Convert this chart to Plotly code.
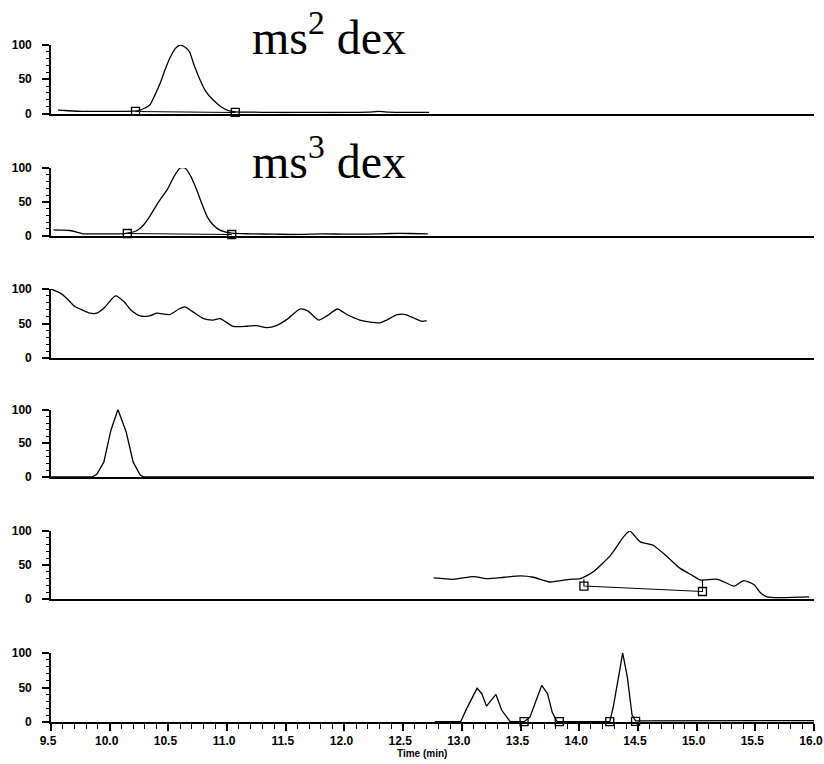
import plotly.graph_objects as go

# ---------------- data (time in min, relative abundance %) ----------------
p1_t = [9.56, 9.65, 9.77, 9.9, 10.05, 10.2, 10.26, 10.30, 10.34, 10.38, 10.43, 10.47, 10.51, 10.56,
        10.60, 10.64, 10.68, 10.72, 10.77, 10.82, 10.88, 10.94, 11.00, 11.07, 11.2, 11.4, 11.6,
        11.8, 12.0, 12.2, 12.29, 12.38, 12.5, 12.72]
p1_v = [5, 4, 3, 3, 3.2, 3.4, 5, 8, 12, 25, 44, 63, 80, 95, 100, 97, 90, 70, 49, 32, 20, 11, 5,
        2.5, 2, 1.5, 1.5, 1.5, 1.5, 2, 3, 2, 1.5, 1.5]
p1_mark_t = [10.22, 11.07]
p1_mark_v = [3, 1.5]

p2_t = [9.52, 9.6, 9.66, 9.72, 9.77, 9.9, 10.09, 10.15, 10.23, 10.28, 10.34, 10.41, 10.49, 10.55,
        10.60, 10.64, 10.69, 10.74, 10.79, 10.83, 10.88, 10.94, 11.04, 11.2, 11.4, 11.6, 11.8,
        12.0, 12.2, 12.4, 12.55, 12.71]
p2_v = [8.4, 8, 7.4, 5, 2.5, 2.5, 2.5, 3.5, 7, 14, 28, 48, 68, 88, 100, 100, 88, 68, 45, 28, 16,
        8, 3.5, 2.5, 2, 1.5, 2.5, 2, 2, 3, 3, 2.5]
p2_mark_t = [10.15, 11.04]
p2_mark_v = [3, 1.5]

p3_t = [9.50, 9.58, 9.63, 9.70, 9.76, 9.83, 9.89, 9.95, 10.05, 10.12, 10.19, 10.26, 10.34, 10.40,
        10.51, 10.59, 10.64, 10.70, 10.80, 10.88, 10.94, 11.05, 11.17, 11.25, 11.34, 11.42, 11.51,
        11.62, 11.69, 11.78, 11.85, 11.94, 12.02, 12.13, 12.22, 12.30, 12.36, 12.45, 12.52, 12.59,
        12.66, 12.70]
p3_v = [100, 94, 87, 75, 70, 65, 65, 72, 90, 82, 68, 61, 61, 65, 63, 71, 74, 68, 57, 55, 57, 46,
        46, 47, 44, 47, 56, 71, 68, 55, 61, 71, 63, 55, 52, 51, 55, 63, 63, 58, 53, 54]

p4_t = [9.5, 9.85, 9.89, 9.95, 10.01, 10.07, 10.14, 10.20, 10.26, 10.29, 12.0, 14.0, 16.0]
p4_v = [0, 0, 4, 22, 69, 100, 67, 22, 3, 0, 0, 0, 0]

p5_t = [12.76, 12.93, 13.10, 13.21, 13.36, 13.50, 13.61, 13.75, 13.92, 14.01, 14.12, 14.27, 14.38,
        14.43, 14.52, 14.63, 14.75, 14.86, 14.97, 15.03, 15.18, 15.32, 15.40, 15.49, 15.54, 15.60,
        15.96]
p5_v = [31, 29, 33, 30, 32, 34, 32, 25, 29, 30, 40, 65, 92, 100, 84, 79, 62, 45, 34, 28, 29, 19,
        27, 21, 10, 3, 3]
p5_base_t = [14.04, 14.04, 15.05, 15.05]
p5_base_v = [29, 19, 11, 28]
p5_mark_t = [14.04, 15.05]
p5_mark_v = [19, 11]

p6_t = [12.77, 12.99, 13.04, 13.13, 13.17, 13.21, 13.29, 13.34, 13.41, 13.53, 13.58, 13.64, 13.68,
        13.73, 13.77, 13.81, 13.83, 14.26, 14.29, 14.34, 14.37, 14.41, 14.45, 14.48, 15.0, 15.5,
        16.0]
p6_v = [0.5, 0.5, 19, 49, 41, 23, 40, 17, 1, 0.5, 7, 36, 53, 41, 14, 1, 0.5, 0.5, 22, 70, 100, 65,
        10, 1.5, 1.5, 2, 2]
p6_mark_t = [13.53, 13.83, 14.26, 14.48]
p6_mark_v = [0.5, 0.5, 0.5, 1]

x_range = [9.5, 16.0]
y_ticks = [0, 50, 100]
x_tick_labels = ["9.5", "10.0", "10.5", "11.0", "11.5", "12.0", "12.5", "13.0", "13.5",
                 "14.0", "14.5", "15.0", "15.5", "16.0"]
x_tick_vals = [9.5 + 0.5 * i for i in range(len(x_tick_labels))]

# ---------------- layout geometry (page pixels) ----------------
W, H = 824, 764
X0, X1 = 51, 814
# (pixel y of value 0, pixel y of value 100) for each panel
panels_px = [(113.5, 45), (235.5, 168), (358, 289), (477, 409.5), (599, 531), (722, 653)]

fig = go.Figure()

LINE = dict(color="black", width=1.3)
SMOOTH = dict(color="black", width=1.3, shape="spline", smoothing=0.6)
MARK = dict(symbol="square-open", size=8, color="black", line=dict(color="black", width=1.3))


def ax(i):
    return ("x" if i == 1 else f"x{i}"), ("y" if i == 1 else f"y{i}")


series = [
    (p1_t, p1_v, SMOOTH), (p2_t, p2_v, SMOOTH), (p3_t, p3_v, SMOOTH), (p4_t, p4_v, LINE),
    (p5_t, p5_v, SMOOTH), (p6_t, p6_v, LINE)
]
for i, (t, v, ln) in enumerate(series, start=1):
    xa, ya = ax(i)
    fig.add_trace(go.Scatter(x=t, y=v, mode="lines", line=ln, xaxis=xa, yaxis=ya,
                             hoverinfo="skip"))

# integration baselines and markers
for i, (mt, mv) in [(1, (p1_mark_t, p1_mark_v)), (2, (p2_mark_t, p2_mark_v))]:
    xa, ya = ax(i)
    fig.add_trace(go.Scatter(x=mt, y=mv, mode="lines+markers", line=dict(color="black", width=1.1),
                             marker=MARK, xaxis=xa, yaxis=ya, cliponaxis=False))
xa, ya = ax(5)
fig.add_trace(go.Scatter(x=p5_base_t, y=p5_base_v, mode="lines", line=dict(color="black", width=1.1),
                         xaxis=xa, yaxis=ya))
fig.add_trace(go.Scatter(x=p5_mark_t, y=p5_mark_v, mode="markers", marker=MARK,
                         xaxis=xa, yaxis=ya, cliponaxis=False))
xa, ya = ax(6)
fig.add_trace(go.Scatter(x=p6_mark_t, y=p6_mark_v, mode="markers", marker=MARK,
                         xaxis=xa, yaxis=ya, cliponaxis=False))

TICKFONT = dict(family="Liberation Sans", size=12, color="black", weight="bold")

layout = dict(width=W, height=H, margin=dict(l=0, r=0, t=0, b=0, autoexpand=False),
              paper_bgcolor="white", plot_bgcolor="white", showlegend=False)

for i, (p0, p100) in enumerate(panels_px, start=1):
    xk = "xaxis" if i == 1 else f"xaxis{i}"
    yk = "yaxis" if i == 1 else f"yaxis{i}"
    xa, ya = ax(i)
    last = (i == 6)
    layout[xk] = dict(domain=[X0 / W, X1 / W], range=x_range, anchor=ya, automargin=False,
                      showline=True, linecolor="black", linewidth=1.6,
                      showgrid=False, zeroline=False,
                      ticks="outside" if last else "", ticklen=7, tickwidth=1.5,
                      tickcolor="black",
                      tickvals=x_tick_vals if last else None,
                      ticktext=x_tick_labels if last else None,
                      showticklabels=last, tickfont=TICKFONT, ticklabeloverflow="allow",
                      ticklabelshift=-3 if last else None,
                      minor=dict(dtick=0.1, ticks="outside", ticklen=5, tickwidth=1.2,
                                 tickcolor="black", showgrid=False) if last else None)
    layout[yk] = dict(domain=[1 - p0 / H, 1 - p100 / H], range=[0, 100], anchor=xa,
                      automargin=False,
                      showline=True, linecolor="black", linewidth=1.6,
                      showgrid=False, zeroline=False,
                      ticks="outside", ticklen=7, tickwidth=1.5, tickcolor="black",
                      tickvals=y_ticks, ticktext=[str(v) for v in y_ticks],
                      tickfont=TICKFONT, ticklabelstandoff=8,
                      minor=dict(dtick=10, ticks="outside", ticklen=3.5, tickwidth=1.1,
                                 tickcolor="black", showgrid=False))

fig.update_layout(**layout)

BIG = dict(family="Liberation Serif", size=48, color="black")
fig.add_annotation(text="ms<sup>2</sup> dex", xref="paper", yref="paper", x=250 / W, y=1 - 66 / H,
                   xanchor="left", yanchor="bottom", showarrow=False, font=BIG)
fig.add_annotation(text="ms<sup>3</sup> dex", xref="paper", yref="paper", x=250 / W, y=1 - 190 / H,
                   xanchor="left", yanchor="bottom", showarrow=False, font=BIG)
fig.add_annotation(text="Time (min)", xref="paper", yref="paper", x=422 / W,
                   y=1 - 753 / H,
                   xanchor="center", yanchor="middle", showarrow=False,
                   font=dict(family="Liberation Sans", size=10, color="black", weight="bold"))

fig.write_html("out.html", config={"displayModeBar": False},
               post_script="document.body.style.margin='0';document.body.style.overflow='hidden';")
